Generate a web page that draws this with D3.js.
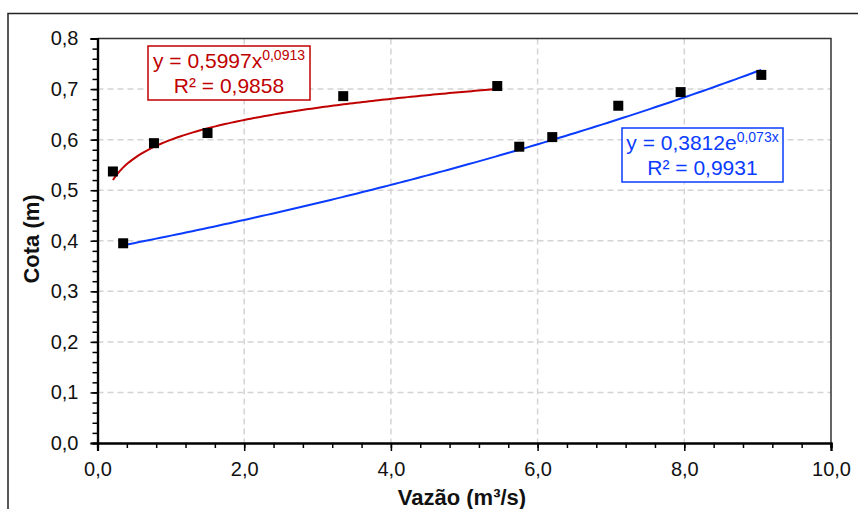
<!DOCTYPE html>
<html><head><meta charset="utf-8">
<script src="https://cdn.jsdelivr.net/npm/d3@7/dist/d3.min.js"></script>
<style>body{margin:0;background:#fff}svg{display:block;font-family:"Liberation Sans",Arial,sans-serif}</style>
</head><body><svg id="c" width="858" height="509"></svg>
<script>
// Data
const redX = [0.21, 0.77, 1.50, 3.35, 5.45];
const redY = [0.537, 0.593, 0.613, 0.686, 0.706];
const blueX = [0.35, 5.75, 6.20, 7.10, 7.95, 9.05];
const blueY = [0.395, 0.586, 0.605, 0.667, 0.694, 0.728];
// Trendline coefficients shown on the chart
const redFit = [0.5997, 0.0913];   // y = a x^b
const blueFit = [0.3812, 0.073];   // y = a e^(b x)
const xTicks = [0, 2, 4, 6, 8, 10];
const yTicks = [0, 0.1, 0.2, 0.3, 0.4, 0.5, 0.6, 0.7, 0.8];
const fmt = d => d3.format(".1f")(d).replace(".", ",");

const svg = d3.select("#c");
const L = 97.5, R = 831, T = 38.5, B = 443;
const x = d3.scaleLinear().domain([0, 10]).range([L, R]);
const y = d3.scaleLinear().domain([0, 0.8]).range([B, T]);

// outer frame
svg.append("rect").attr("x", 8).attr("y", 13.5).attr("width", 870).attr("height", 520)
  .attr("fill", "none").attr("stroke", "#222").attr("stroke-width", 1.5);

// grid
const g = svg.append("g");
g.selectAll(".gx").data(xTicks.slice(1, -1)).join("line")
  .attr("x1", d => x(d)).attr("x2", d => x(d)).attr("y1", T).attr("y2", B)
  .attr("stroke", "#d4d4d4").attr("stroke-width", 1.5).attr("stroke-dasharray", "6,4");
g.selectAll(".gy").data(yTicks.slice(1, -1)).join("line")
  .attr("y1", d => y(d)).attr("y2", d => y(d)).attr("x1", L).attr("x2", R)
  .attr("stroke", "#d4d4d4").attr("stroke-width", 1.5).attr("stroke-dasharray", "6,4");

// plot border (top/right)
svg.append("path").attr("d", `M${L},${T}H${R}V${B}`).attr("fill", "none")
  .attr("stroke", "#333").attr("stroke-width", 1.5);

// axes
const xMinor = d3.range(0, 10.001, 0.4);
const yMinor = d3.range(0, 0.8001, 0.02);
const xa = svg.append("g").attr("transform", `translate(0,${B})`);
xa.call(d3.axisBottom(x).tickValues(xMinor).tickSize(5).tickFormat(""));
xa.append("g").call(d3.axisBottom(x).tickValues(xTicks).tickSize(8).tickPadding(11).tickFormat(fmt));
const ya = svg.append("g").attr("transform", `translate(${L},0)`);
ya.call(d3.axisLeft(y).tickValues(yMinor).tickSize(5).tickFormat(""));
ya.append("g").call(d3.axisLeft(y).tickValues(yTicks).tickSize(7).tickPadding(12).tickFormat(fmt));
svg.selectAll(".domain").attr("stroke", "#000").attr("stroke-width", 2.2);
svg.selectAll(".tick line").attr("stroke", "#000").attr("stroke-width", 1.5);
svg.selectAll(".tick text").attr("font-size", 20).attr("fill", "#111")
  .attr("font-family", "Liberation Sans, Arial, sans-serif");

// trendlines
const N = 120;
const redLine = d3.range(N + 1).map(i => {
  const xv = redX[0] + (redX[redX.length - 1] - redX[0]) * i / N;
  return [xv, redFit[0] * Math.pow(xv, redFit[1])];
});
const blueLine = d3.range(N + 1).map(i => {
  const xv = blueX[0] + (blueX[blueX.length - 1] - blueX[0]) * i / N;
  return [xv, blueFit[0] * Math.exp(blueFit[1] * xv)];
});
const line = d3.line().x(d => x(d[0])).y(d => y(d[1]));
svg.append("path").attr("d", line(redLine)).attr("fill", "none").attr("stroke", "#C00000").attr("stroke-width", 2);
svg.append("path").attr("d", line(blueLine)).attr("fill", "none").attr("stroke", "#0A3CFF").attr("stroke-width", 2);

// points
const pts = redX.map((v, i) => [v, redY[i]]).concat(blueX.map((v, i) => [v, blueY[i]]));
svg.selectAll(".pt").data(pts).join("rect")
  .attr("x", d => x(d[0]) - 5).attr("y", d => y(d[1]) - 5).attr("width", 10).attr("height", 10).attr("fill", "#000");

// equation boxes
function eqBox(bx, by, bw, bh, col, a, ex, r2, base) {
  const gg = svg.append("g");
  gg.append("rect").attr("x", bx).attr("y", by).attr("width", bw).attr("height", bh)
    .attr("fill", "#fff").attr("stroke", col).attr("stroke-width", 1.5);
  const t1 = gg.append("text").attr("x", bx + bw / 2).attr("y", by + 22).attr("text-anchor", "middle")
    .attr("fill", col).attr("font-size", 21);
  t1.append("tspan").text("y = " + a + base);
  t1.append("tspan").attr("dy", -8).attr("font-size", 14).text(ex);
  gg.append("text").attr("x", bx + bw / 2).attr("y", by + 47).attr("text-anchor", "middle")
    .attr("fill", col).attr("font-size", 21).text("R² = " + r2);
}
eqBox(148, 46, 162, 54, "#C00000", "0,5997", "0,0913", "0,9858", "x");
eqBox(622, 128, 161, 54, "#0A3CFF", "0,3812", "0,073x", "0,9931", "e");

// axis titles
svg.append("text").attr("x", 462).attr("y", 505).attr("text-anchor", "middle")
  .attr("font-weight", "bold").attr("font-size", 22).attr("fill", "#111").text("Vazão (m³/s)");
svg.append("text").attr("transform", "translate(39,239) rotate(-90)").attr("text-anchor", "middle")
  .attr("font-weight", "bold").attr("font-size", 22).attr("fill", "#111").text("Cota (m)");
</script></body></html>
